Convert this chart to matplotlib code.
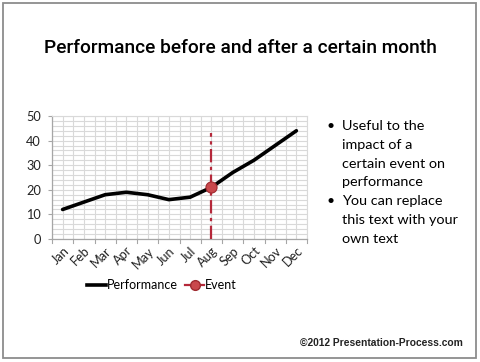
import matplotlib
matplotlib.use('Agg')
import matplotlib.pyplot as plt
from matplotlib.lines import Line2D
from matplotlib.patches import Rectangle
from matplotlib.ticker import MultipleLocator

# data
months = ['Jan', 'Feb', 'Mar', 'Apr', 'May', 'Jun',
          'Jul', 'Aug', 'Sep', 'Oct', 'Nov', 'Dec']
performance = [12, 15, 18, 19, 18, 16, 17, 21, 27, 32, 38, 44]
event_month = 'Aug'
event_value = 21
event_line_top = 43

bullets = ['Useful to the\nimpact of a\ncertain event on\nperformance',
           'You can replace\nthis text with your\nown text']

RED = '#B5283A'
MARKER = '#C9484C'
GRID = '#D9D9D9'
AXIS = '#A6A6A6'

plt.rcParams['font.family'] = ['Lato', 'DejaVu Sans']

fig = plt.figure(figsize=(4.8, 3.62), dpi=100)
fig.patch.set_facecolor('white')

# slide frame
fig.patches.append(Rectangle((3 / 480, 4 / 362), 473 / 480, 355 / 362,
                             transform=fig.transFigure, fill=False,
                             edgecolor='#8C8C8C', linewidth=1.3))

ax = fig.add_axes([52 / 480, 1 - 239 / 362, 255 / 480, 123 / 362])
x = list(range(len(months)))
ax.plot(x, performance, color='black', linewidth=2.6, solid_capstyle='round',
        solid_joinstyle='round', zorder=3)

ev = months.index(event_month)
ax.plot([ev, ev], [0, event_line_top], color=RED, linewidth=1.6,
        linestyle=(0, (6, 2, 1.5, 2)), zorder=4)
ax.plot([ev], [event_value], marker='o', markersize=8, color=MARKER,
        markeredgecolor='#9E2A2F', markeredgewidth=0.8, zorder=5)

ax.set_xlim(-0.5, len(months) - 0.5)
ax.set_ylim(0, 50)
ax.set_xticks(x)
ax.set_xticklabels(months, rotation=45, ha='right', rotation_mode='anchor',
                   fontsize=9.2, color='#222222')
ax.yaxis.set_major_locator(MultipleLocator(10))
ax.yaxis.set_minor_locator(MultipleLocator(2))
ax.xaxis.set_minor_locator(MultipleLocator(0.5))
ax.tick_params(axis='y', labelsize=9.2, colors='#222222', length=3,
               color=AXIS, pad=5)
ax.tick_params(axis='y', which='minor', length=0)
ax.tick_params(axis='x', which='major', length=0, pad=4)
ax.tick_params(axis='x', which='minor', length=0)
ax.grid(True, which='both', color=GRID, linewidth=0.8)
ax.set_axisbelow(True)

# category boundary ticks on x axis
for b in range(len(months) + 1):
    ax.plot([b - 0.5, b - 0.5], [0, -1.6], color=AXIS, linewidth=0.8,
            clip_on=False)

for side in ['top', 'right']:
    ax.spines[side].set_color(GRID)
    ax.spines[side].set_linewidth(0.8)
for side in ['left', 'bottom']:
    ax.spines[side].set_color(AXIS)
    ax.spines[side].set_linewidth(0.9)

handles = [Line2D([], [], color='black', linewidth=2.6),
           Line2D([], [], color=RED, linewidth=1.6, marker='o', markersize=7,
                  markerfacecolor=MARKER, markeredgecolor='#9E2A2F')]
fig.legend(handles, ['Performance', 'Event'], loc='center',
           bbox_to_anchor=(162 / 480, 1 - 285 / 362), ncol=2, frameon=False,
           fontsize=9, handlelength=1.5, handletextpad=0.1, columnspacing=0.6)

fig.text(0.5, 1 - 48 / 362, 'Performance before and after a certain month',
         ha='center', va='center', fontsize=13.8, fontweight='medium',
         family=['Roboto', 'DejaVu Sans'], color='black')

# bullets
y0 = 1 - 126 / 362
step = 18.8 / 362
line_no = 0
for b in bullets:
    fig.text(326 / 480, y0 - line_no * step, '\u2022', ha='left',
             va='center', fontsize=10)
    for ln in b.split('\n'):
        fig.text(342 / 480, y0 - line_no * step, ln, ha='left', va='center',
                 fontsize=10.4, color='black')
        line_no += 1

fig.text(463 / 480, 1 - 343 / 362, '\u00a92012 Presentation-Process.com',
         ha='right', va='center', fontsize=7.4, fontweight='bold',
         family=['Liberation Sans', 'DejaVu Sans'], color='#222222')

plt.savefig('out.png', dpi=100)
